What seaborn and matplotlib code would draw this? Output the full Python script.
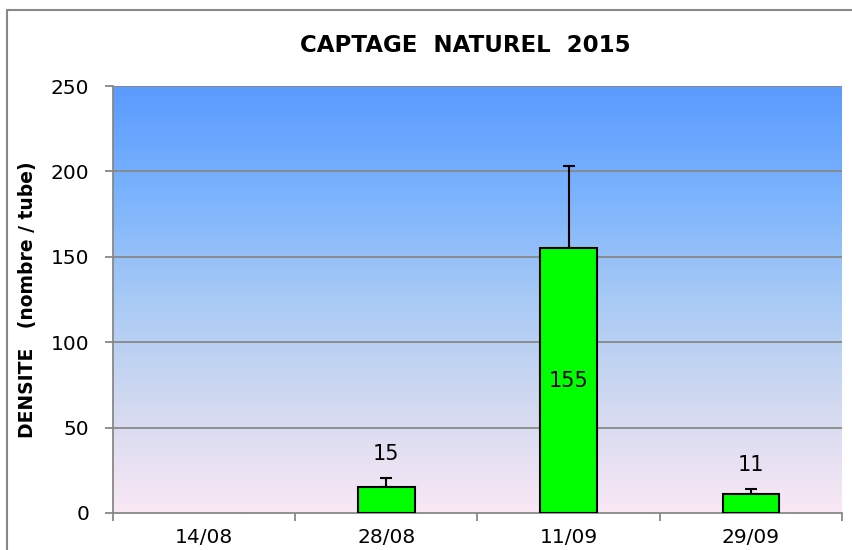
import numpy as np
import pandas as pd
import matplotlib
matplotlib.use("Agg")
import matplotlib.pyplot as plt
from matplotlib.colors import LinearSegmentedColormap
from matplotlib.patches import Rectangle
import seaborn as sns

# Data
dates = ["14/08", "28/08", "11/09", "29/09"]
densite = [0, 15, 155, 11]
erreur = [0, 5.5, 48, 3.2]
labels = ["", "15", "155", "11"]

sns.set_style("white")
plt.rcParams['font.family'] = ['DejaVu Sans']
plt.rcParams['text.color'] = 'black'
plt.rcParams['axes.labelcolor'] = 'black'
plt.rcParams['xtick.color'] = 'black'
plt.rcParams['ytick.color'] = 'black'

df = pd.DataFrame({"date": dates, "densite": densite})

fig = plt.figure(figsize=(8.53, 5.5), dpi=100)
ax = fig.add_axes([0.1325, 0.0673, 0.8545, 0.7763])

# gradient background (blue at top, pink at bottom)
grad_cmap = LinearSegmentedColormap.from_list(
    "bg", ["#FAE8F5", "#D2D9F0", "#A8CAF5", "#7AB3FD", "#5B9BFF"])
grad = np.linspace(0, 1, 256).reshape(-1, 1)
ax.imshow(grad, cmap=grad_cmap, origin="lower", aspect="auto",
          extent=[-0.5, 3.5, 0, 250], zorder=0)

for v in [50, 100, 150, 200, 250]:
    ax.axhline(v, color="#888888", lw=1.3, zorder=1)

sns.barplot(data=df, x="date", y="densite", color="#00FF00", width=0.31,
            edgecolor="black", linewidth=1.5, saturation=1, ax=ax, zorder=3)
# no visible bar for zero values
for p in ax.patches:
    if p.get_height() == 0:
        p.set_linewidth(0)

# upper error bars only, for the dates with a measurement
idx = [i for i, v in enumerate(densite) if v > 0]
ax.errorbar(idx, [densite[i] for i in idx],
            yerr=[np.zeros(len(idx)), [erreur[i] for i in idx]],
            fmt="none", ecolor="black", elinewidth=1.5, capsize=4, capthick=1.5,
            zorder=2)

for i, (v, e, lab) in enumerate(zip(densite, erreur, labels)):
    if not lab:
        continue
    if v > 100:
        ax.text(i, v / 2, lab, ha="center", va="center", fontsize=15, zorder=4)
    else:
        ax.text(i, v + e + 14, lab, ha="center", va="center", fontsize=15, zorder=4)

ax.set_xlim(-0.5, 3.5)
ax.set_ylim(0, 250)
ax.set_yticks([0, 50, 100, 150, 200, 250])
ax.set_xticks(np.arange(-0.5, 3.6, 1), minor=True)
ax.tick_params(axis="x", which="major", length=0, pad=11, labelsize=14.5)
ax.tick_params(axis="x", which="minor", length=6, width=1.3, color="#888888",
               direction="out", bottom=True)
ax.tick_params(axis="y", length=6, width=1.3, color="#888888", direction="out",
               left=True, labelsize=14.5, pad=11)

for side in ["top", "right"]:
    ax.spines[side].set_visible(False)
for side in ["left", "bottom"]:
    ax.spines[side].set_color("#888888")
    ax.spines[side].set_linewidth(1.3)

ax.set_xlabel("")
ax.set_ylabel("DENSITE   (nombre / tube)", fontsize=13.5, fontweight="bold",
              labelpad=10)
fig.text(0.545, 0.918, "CAPTAGE  NATUREL  2015", ha="center", va="center",
         fontsize=16.5, fontweight="bold")

# outer frame of the chart
fig.patches.append(Rectangle((0.008, -0.1), 1.2, 1.082, transform=fig.transFigure,
                             fill=False, edgecolor="#888888", lw=1.5))

fig.savefig("out.png", dpi=100)
